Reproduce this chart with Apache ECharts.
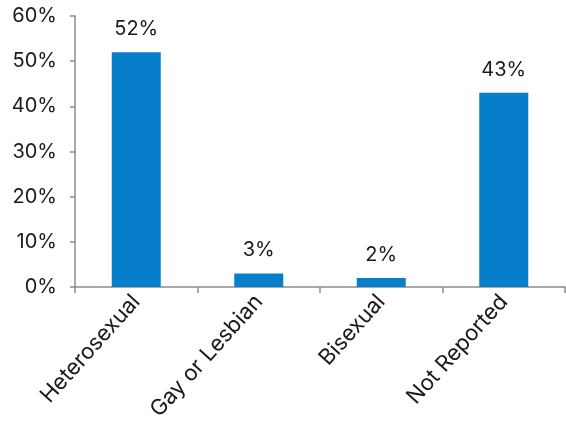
<!DOCTYPE html>
<html><head><meta charset="utf-8">
<script src="https://cdn.jsdelivr.net/npm/echarts@6/dist/echarts.min.js"></script>
<style>html,body{margin:0;padding:0;background:#fff}#c{width:566px;height:428px}</style>
</head><body><div id="c"></div>
<script>
const categories = ["Heterosexual", "Gay or Lesbian", "Bisexual", "Not Reported"];
const values = [52, 3, 2, 43];
const yTicks = [0, 10, 20, 30, 40, 50, 60];

const chart = echarts.init(document.getElementById('c'), null, {renderer: 'canvas'});
const font = 'Inter, "Open Sans", sans-serif';
chart.setOption({
  animation: false,
  grid: {left: 75, right: 1, top: 16, bottom: 141, containLabel: false, outerBoundsMode: 'none'},
  xAxis: {
    type: 'category', data: categories,
    axisLine: {lineStyle: {color: '#8c8c8c', width: 1.5}},
    axisTick: {show: true, length: 6, lineStyle: {color: '#8c8c8c', width: 1.5}},
    axisLabel: {rotate: 48, color: '#1a1a1a', fontSize: 22, fontFamily: font, margin: 11, interval: 0}
  },
  yAxis: {
    type: 'value', min: yTicks[0], max: yTicks[yTicks.length - 1], interval: 10,
    axisLine: {show: true, lineStyle: {color: '#8c8c8c', width: 1.5}},
    axisTick: {show: true, length: 5, lineStyle: {color: '#8c8c8c', width: 1.5}},
    splitLine: {show: false},
    axisLabel: {color: '#1a1a1a', fontSize: 20, fontFamily: font, margin: 18, formatter: v => v + '%'}
  },
  series: [{
    type: 'bar', data: values, barWidth: '40%',
    itemStyle: {color: '#067ec9'},
    label: {show: true, position: 'top', distance: 13, color: '#1a1a1a', fontSize: 20, fontFamily: font, formatter: p => p.value + '%'}
  }]
});
</script></body></html>
